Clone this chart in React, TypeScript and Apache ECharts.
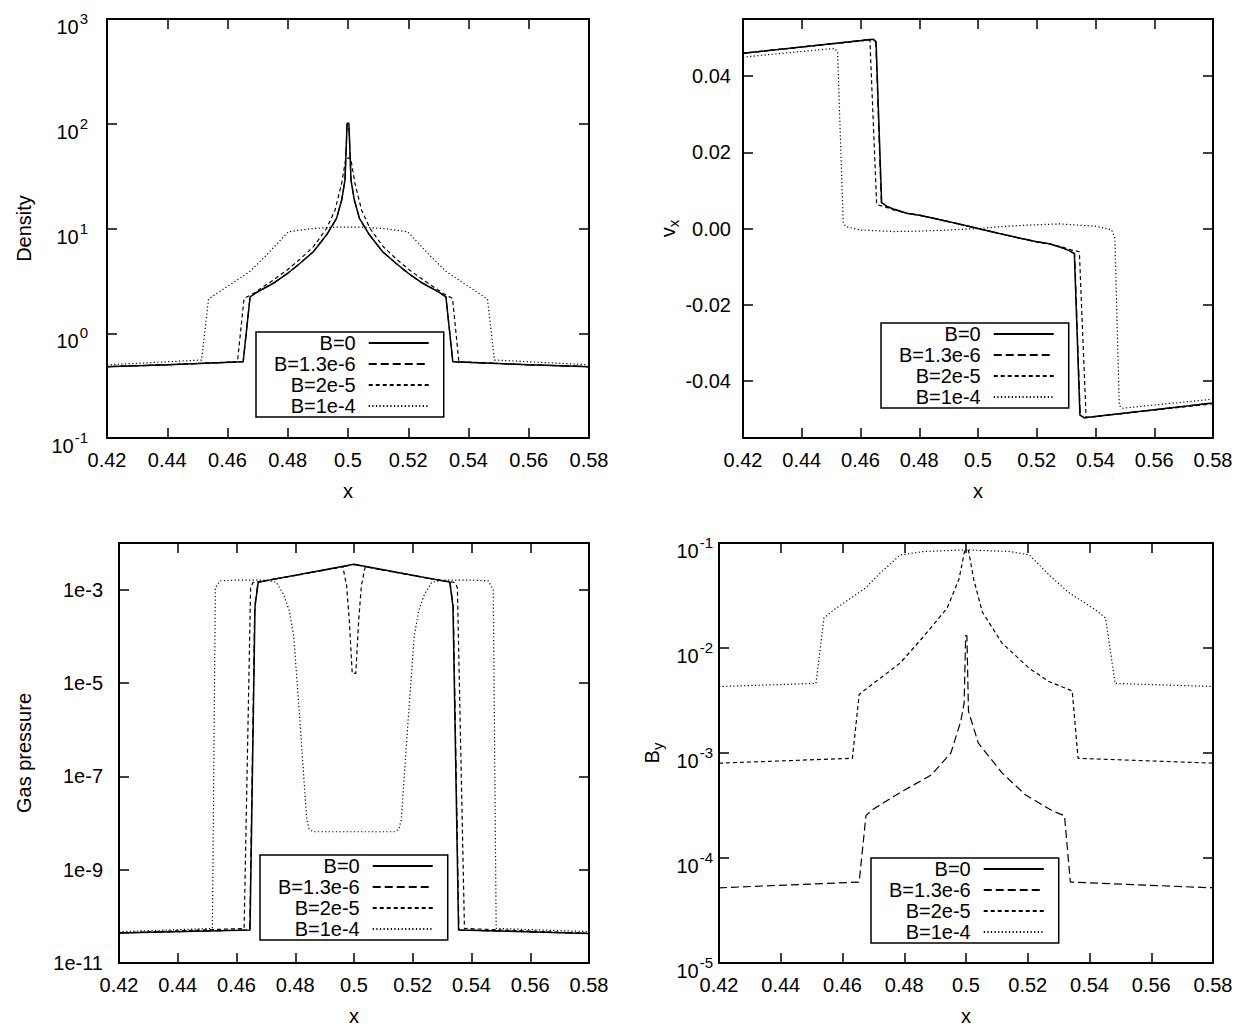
import React, { useEffect, useRef } from "react";
import * as echarts from "echarts";

type Pt = [number, number];

const seriesNames = ["B=0", "B=1.3e-6", "B=2e-5", "B=1e-4"];

// x axis
const xMin = 0.42;
const xMax = 0.58;
const xStep = 0.02;

// ---------- Panel 1: Density (log) ----------
const densityB0: Pt[] = [
  [0.42, 0.48], [0.44, 0.5], [0.4652, 0.535], [0.4675, 2.23], [0.4697, 2.46], [0.4752, 3.0],
  [0.4797, 3.68], [0.4841, 4.66], [0.4885, 6.0], [0.4929, 8.7], [0.4962, 12.5], [0.4979, 18.7],
  [0.499, 29], [0.4997, 101], [0.5003, 101], [0.501, 29], [0.5021, 18.7], [0.5038, 12.5],
  [0.5071, 8.7], [0.5115, 6.0], [0.5159, 4.66], [0.5203, 3.68], [0.5248, 3.0], [0.5303, 2.46],
  [0.5325, 2.23], [0.5348, 0.535], [0.56, 0.5], [0.58, 0.48],
];
const densityB13: Pt[] = [
  [0.42, 0.48], [0.44, 0.5], [0.4652, 0.535], [0.4675, 2.23], [0.4697, 2.46], [0.4752, 3.0],
  [0.4797, 3.68], [0.4841, 4.66], [0.4885, 6.0], [0.4929, 8.7], [0.4962, 12.5], [0.4979, 18.7],
  [0.499, 29], [0.4997, 98], [0.5003, 98], [0.501, 29], [0.5021, 18.7], [0.5038, 12.5],
  [0.5071, 8.7], [0.5115, 6.0], [0.5159, 4.66], [0.5203, 3.68], [0.5248, 3.0], [0.5303, 2.46],
  [0.5325, 2.23], [0.5348, 0.535], [0.56, 0.5], [0.58, 0.48],
];
const densityB2: Pt[] = [
  [0.42, 0.48], [0.44, 0.5], [0.4633, 0.535], [0.4655, 2.15], [0.4686, 2.4], [0.4752, 3.22],
  [0.4797, 4.0], [0.4841, 5.1], [0.4885, 6.7], [0.4929, 10.0], [0.4957, 15], [0.4979, 27],
  [0.4993, 47], [0.5009, 47], [0.5023, 27], [0.5045, 15], [0.5073, 10.0], [0.5117, 6.7],
  [0.5161, 5.1], [0.5205, 4.0], [0.525, 3.22], [0.5316, 2.4], [0.5347, 2.15], [0.5368, 0.535],
  [0.56, 0.5], [0.58, 0.48],
];
const densityB1e4: Pt[] = [
  [0.42, 0.5], [0.4514, 0.555], [0.4537, 2.12], [0.46, 2.8], [0.4675, 3.9], [0.473, 5.6],
  [0.4802, 9.3], [0.487, 9.9], [0.4945, 10.3], [0.5055, 10.3], [0.513, 9.9], [0.5198, 9.3],
  [0.527, 5.6], [0.5325, 3.9], [0.54, 2.8], [0.5463, 2.12], [0.5486, 0.555], [0.58, 0.5],
];

// ---------- Panel 2: v_x ----------
const vxTicks = [-0.04, -0.02, 0, 0.02, 0.04];
const vxB0: Pt[] = [
  [0.42, 0.046], [0.4644, 0.0497], [0.4653, 0.049], [0.4672, 0.0068], [0.469, 0.0058],
  [0.4712, 0.0051], [0.4757, 0.004], [0.48, 0.0035], [0.4848, 0.0027], [0.49, 0.0018],
  [0.495, 0.0009], [0.5, 0.0], [0.505, -0.0009], [0.51, -0.0018], [0.5152, -0.0027],
  [0.52, -0.0035], [0.5243, -0.004], [0.5288, -0.0051], [0.531, -0.0058], [0.5328, -0.0066],
  [0.5347, -0.049], [0.5362, -0.0497], [0.58, -0.0458],
];
const vxB13: Pt[] = [
  [0.42, 0.046], [0.4642, 0.0497], [0.4652, 0.049], [0.4671, 0.0067], [0.469, 0.0058],
  [0.4712, 0.0051], [0.4757, 0.004], [0.48, 0.0035], [0.4848, 0.0027], [0.49, 0.0018],
  [0.495, 0.0009], [0.5, 0.0], [0.505, -0.0009], [0.51, -0.0018], [0.5152, -0.0027],
  [0.52, -0.0035], [0.5243, -0.004], [0.5288, -0.0051], [0.531, -0.0058], [0.5329, -0.0066],
  [0.5348, -0.049], [0.5363, -0.0497], [0.58, -0.0458],
];
const vxB2: Pt[] = [
  [0.42, 0.046], [0.4632, 0.0495], [0.4655, 0.0063], [0.469, 0.0055], [0.4712, 0.0049],
  [0.4757, 0.004], [0.48, 0.0035], [0.485, 0.0027], [0.49, 0.0018], [0.495, 0.0009], [0.5, 0.0],
  [0.505, -0.0009], [0.51, -0.0018], [0.515, -0.0027], [0.52, -0.0035], [0.5243, -0.004],
  [0.5288, -0.0049], [0.531, -0.0055], [0.5345, -0.0061], [0.5368, -0.0496], [0.58, -0.046],
];
const vxB1e4: Pt[] = [
  [0.42, 0.045], [0.4513, 0.0473], [0.4522, 0.0462], [0.4541, 0.0018], [0.4549, 0.0005],
  [0.46, -0.0004], [0.4712, -0.0008], [0.48, -0.0007], [0.49, -0.0004], [0.5, 0.0],
  [0.51, 0.0006], [0.52, 0.001], [0.5279, 0.0012], [0.54, 0.0006], [0.5455, -0.0003],
  [0.5466, -0.0026], [0.5481, -0.0465], [0.549, -0.0472], [0.58, -0.0448],
];

// ---------- Panel 3: gas pressure (log, via exponent) ----------
const pressureTickExps = [-11, -9, -7, -5, -3];
const pressureB0: Pt[] = [
  [0.42, 4.4e-11], [0.4646, 5.1e-11], [0.4663, 4.3e-4], [0.4674, 1.45e-3], [0.5, 3.5e-3],
  [0.5326, 1.45e-3], [0.5337, 4.3e-4], [0.5356, 5.1e-11], [0.58, 4.3e-11],
];
const pressureB13: Pt[] = [
  [0.42, 4.4e-11], [0.4645, 5.1e-11], [0.4662, 4.3e-4], [0.4673, 1.44e-3], [0.5, 3.45e-3],
  [0.5327, 1.44e-3], [0.5338, 4.3e-4], [0.5357, 5.1e-11], [0.58, 4.3e-11],
];
const pressureB2: Pt[] = [
  [0.42, 4.4e-11], [0.4626, 5.5e-11], [0.4648, 1.1e-3], [0.4656, 1.42e-3], [0.48, 2.0e-3],
  [0.4962, 3.1e-3], [0.4975, 1.2e-3], [0.4984, 2.2e-4], [0.4994, 1.6e-5], [0.5006, 1.6e-5],
  [0.5016, 2.2e-4], [0.5025, 1.2e-3], [0.5038, 3.1e-3], [0.52, 2.0e-3], [0.5344, 1.42e-3],
  [0.5352, 1.1e-3], [0.5376, 5.5e-11], [0.58, 4.3e-11],
];
const pressureB1e4: Pt[] = [
  [0.42, 4.7e-11], [0.4518, 5.5e-11], [0.4528, 1.1e-3], [0.4544, 1.55e-3], [0.46, 1.6e-3],
  [0.47, 1.6e-3], [0.4735, 1.45e-3], [0.476, 8e-4], [0.478, 3.5e-4], [0.4795, 1.0e-4],
  [0.4816, 1.5e-6], [0.4839, 1.2e-8], [0.4847, 7.5e-9], [0.486, 6.5e-9], [0.5, 6.5e-9],
  [0.514, 6.5e-9], [0.5153, 7.5e-9], [0.5161, 1.2e-8], [0.5184, 1.5e-6], [0.5205, 1.0e-4],
  [0.522, 3.5e-4], [0.524, 8e-4], [0.5265, 1.45e-3], [0.53, 1.6e-3], [0.54, 1.6e-3],
  [0.5457, 1.55e-3], [0.5474, 1.0e-3], [0.5484, 5.5e-11], [0.58, 4.7e-11],
];

// ---------- Panel 4: B_y (log) ----------
const byB0: Pt[] = [];
const byB13: Pt[] = [
  [0.42, 5.2e-5], [0.4654, 5.9e-5], [0.4676, 2.53e-4], [0.4698, 2.9e-4], [0.4787, 4.2e-4],
  [0.4888, 6.2e-4], [0.4951, 1.0e-3], [0.4983, 2.0e-3], [0.4994, 3.0e-3], [0.4999, 1.32e-2],
  [0.5003, 1.3e-2], [0.5008, 2.5e-3], [0.504, 1.24e-3], [0.5116, 6.5e-4], [0.5192, 4.0e-4],
  [0.5281, 2.8e-4], [0.5319, 2.53e-4], [0.5338, 5.9e-5], [0.58, 5.2e-5],
];
const byB2: Pt[] = [
  [0.42, 8.0e-4], [0.4632, 8.9e-4], [0.4654, 3.6e-3], [0.4673, 4.0e-3], [0.4787, 7.2e-3],
  [0.4863, 1.29e-2], [0.4939, 2.4e-2], [0.4977, 4.5e-2], [0.4996, 8.5e-2], [0.5008, 8.5e-2],
  [0.5025, 4.5e-2], [0.5053, 2.2e-2], [0.5116, 1.12e-2], [0.5205, 6.4e-3], [0.5268, 4.8e-3],
  [0.5344, 3.9e-3], [0.5363, 8.9e-4], [0.58, 8.0e-4],
];
const byB1e4: Pt[] = [
  [0.42, 4.3e-3], [0.4514, 4.6e-3], [0.454, 1.93e-2], [0.4571, 2.3e-2], [0.4673, 3.7e-2],
  [0.4723, 5.2e-2], [0.4787, 7.7e-2], [0.4863, 8.3e-2], [0.5002, 8.6e-2], [0.5141, 8.3e-2],
  [0.5205, 7.7e-2], [0.5268, 5.0e-2], [0.5331, 3.4e-2], [0.542, 2.3e-2], [0.5452, 1.93e-2],
  [0.5483, 4.6e-3], [0.58, 4.3e-3],
];

const FONT = '"Liberation Sans", Arial, Helvetica, sans-serif';
const FS = 20;
const SUP = 15;
const BLACK = "#000";

const lineStyles: any[] = [
  { type: "solid", width: 1.5 },
  { type: [8, 4], width: 1.2 },
  { type: [4, 3], width: 1.2 },
  { type: [1.2, 2.4], width: 1.2 },
];

const axisLine = { show: true, onZero: false, lineStyle: { color: BLACK, width: 2 } };
const axisTick = { show: true, inside: true, length: 10, lineStyle: { color: BLACK, width: 1.5 } };
const baseText = { fontSize: FS, fontFamily: FONT, color: BLACK };

const supRich = {
  b: { fontSize: FS, fontFamily: FONT, color: BLACK, verticalAlign: "top", lineHeight: FS, padding: [8, 0, 0, 0] },
  e: { fontSize: SUP, fontFamily: FONT, color: BLACK, verticalAlign: "top", lineHeight: SUP, padding: [2, 0, 0, 1] },
};
const subRich = {
  m: { fontSize: FS, fontFamily: FONT, color: BLACK, verticalAlign: "top", lineHeight: FS, padding: [0, 0, 0, 0] },
  s: { fontSize: SUP, fontFamily: FONT, color: BLACK, verticalAlign: "top", lineHeight: SUP, padding: [8, 0, 0, 0] },
};

const grids = [
  { left: 107, top: 19, width: 482, height: 419 },
  { left: 743, top: 19, width: 470, height: 419 },
  { left: 119, top: 543, width: 470, height: 420 },
  { left: 719, top: 543, width: 494, height: 420 },
];

function xAxisPair(gridIndex: number) {
  const common = {
    type: "value",
    gridIndex,
    min: xMin,
    max: xMax,
    interval: xStep,
    axisLine,
    axisTick,
    splitLine: { show: false },
  };
  return [
    {
      ...common,
      position: "bottom",
      name: "x",
      nameLocation: "middle",
      nameGap: 43,
      nameTextStyle: baseText,
      axisLabel: {
        ...baseText,
        margin: 12,
        formatter: (v: number) => String(parseFloat(v.toFixed(2))),
      },
    },
    { ...common, position: "top", axisLabel: { show: false } },
  ];
}

function yAxisPair(gridIndex: number, scale: any, tick: any, label: any, name: string, nameGap: number, nameRich?: any) {
  return [
    {
      ...scale,
      gridIndex,
      position: "left",
      name,
      nameLocation: "middle",
      nameGap,
      nameTextStyle: nameRich ? { ...baseText, rich: nameRich } : baseText,
      axisLine,
      axisTick: { ...axisTick, ...tick },
      axisLabel: { ...baseText, ...label },
      splitLine: { show: false },
    },
    {
      ...scale,
      gridIndex,
      position: "right",
      axisLine,
      axisTick: { ...axisTick, ...tick },
      axisLabel: { show: false },
      splitLine: { show: false },
    },
  ];
}

const supFormatter = (v: number) => `{b|10}{e|${Math.round(Math.log10(v))}}`;

function makeSeries(panel: number, datasets: Pt[][], transform?: (y: number) => number) {
  return datasets.map((d, i) => ({
    type: "line",
    name: seriesNames[i],
    xAxisIndex: panel * 2,
    yAxisIndex: panel * 2,
    data: transform ? d.map(([x, y]) => [x, transform(y)]) : d,
    showSymbol: false,
    symbol: "none",
    silent: true,
    z: 2 + i,
    lineStyle: { color: BLACK, ...lineStyles[i] },
    itemStyle: { color: BLACK },
  }));
}

function legendAt(left: number, top: number) {
  return {
    data: seriesNames,
    orient: "vertical",
    left,
    top,
    align: "right",
    itemWidth: 60,
    itemHeight: 19,
    itemGap: 1,
    padding: [1, 14, 1, 18],
    borderColor: BLACK,
    borderWidth: 1.5,
    borderRadius: 0,
    selectedMode: false,
    itemStyle: { opacity: 0 },
    formatter: (name: string) => `{t|${name}}`,
    textStyle: {
      ...baseText,
      rich: {
        t: { ...baseText, padding: [0, 8, 0, 0] },
      },
    },
  };
}

export default function App() {
  const ref = useRef<HTMLDivElement>(null);
  useEffect(() => {
    if (!ref.current) return;
    const chart = echarts.init(ref.current, null, { renderer: "svg" });
    const option: any = {
      animation: false,
      backgroundColor: "#fff",
      grid: grids,
      xAxis: [...xAxisPair(0), ...xAxisPair(1), ...xAxisPair(2), ...xAxisPair(3)],
      yAxis: [
        ...yAxisPair(
          0,
          { type: "log", logBase: 10, min: 0.1, max: 1000 },
          {},
          { margin: 19, formatter: supFormatter, rich: supRich },
          "Density",
          73
        ),
        ...yAxisPair(
          1,
          { type: "value", min: -0.055, max: 0.055 },
          { customValues: vxTicks },
          { margin: 12, customValues: vxTicks, formatter: (v: number) => v.toFixed(2) },
          "{m|v}{s|x}",
          65,
          subRich
        ),
        ...yAxisPair(
          2,
          { type: "value", min: -11, max: -2 },
          { customValues: pressureTickExps },
          { margin: 16, customValues: pressureTickExps, formatter: (v: number) => `1e${v}` },
          "Gas pressure",
          85
        ),
        ...yAxisPair(
          3,
          { type: "log", logBase: 10, min: 1e-5, max: 0.1 },
          {},
          { margin: 6, formatter: supFormatter, rich: supRich },
          "{m|B}{s|y}",
          57,
          subRich
        ),
      ],
      legend: [legendAt(256, 332), legendAt(881, 323), legendAt(260, 855), legendAt(871, 858)],
      series: [
        ...makeSeries(0, [densityB0, densityB13, densityB2, densityB1e4]),
        ...makeSeries(1, [vxB0, vxB13, vxB2, vxB1e4]),
        ...makeSeries(2, [pressureB0, pressureB13, pressureB2, pressureB1e4], (y) => Math.log10(y)),
        ...makeSeries(3, [byB0, byB13, byB2, byB1e4]),
      ],
    };
    chart.setOption(option);
    return () => chart.dispose();
  }, []);
  return (
    <div
      ref={ref}
      style={{ position: "fixed", left: 0, top: 0, width: 1250, height: 1028, background: "#fff" }}
    />
  );
}
